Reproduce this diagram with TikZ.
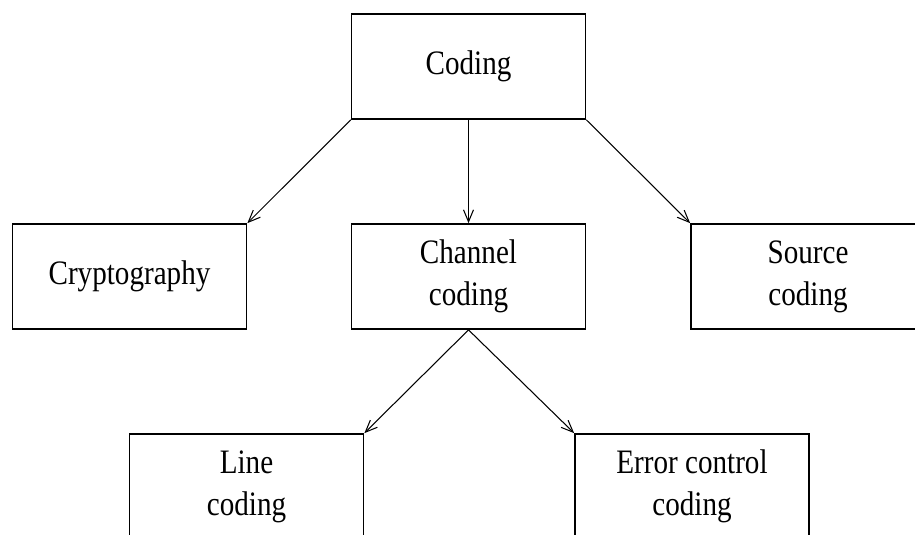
\documentclass[tikz,border=0pt]{standalone}
\usepackage{fontspec}
\setmainfont{Liberation Serif}[FakeStretch=0.85]
\usetikzlibrary{arrows.meta}

\begin{document}
\begin{tikzpicture}[x=0.02cm,y=-0.02cm,
  box/.style={draw,line width=1pt,minimum width=4.68cm,minimum height=2.1cm,
    align=center,inner sep=0pt,font=\fontsize{19.5}{24}\selectfont},
  arr/.style={-{Straight Barb[length=2.4mm,width=2mm]},line width=0.6pt}]
\useasboundingbox (0,0) rectangle (915,534);
\clip (0,0) rectangle (915,534);
\node[box] (coding) at (468.5,66.5) {Coding};
\node[box] (crypto) at (129.5,276.5) {Cryptography};
\node[box] (channel) at (468.5,276.5) {Channel\\coding};
\node[box] (source) at (808,276.5) {Source\\coding};
\node[box] (line) at (246.5,486.5) {Line\\coding};
\node[box] (error) at (692,486.5) {Error control\\coding};
\draw[arr] (coding.south west)--(crypto.north east);
\draw[arr] (coding.south)--(channel.north);
\draw[arr] (coding.south east)--(source.north west);
\draw[arr] (channel.south)--(line.north east);
\draw[arr] (channel.south)--(error.north west);
\end{tikzpicture}
\end{document}
